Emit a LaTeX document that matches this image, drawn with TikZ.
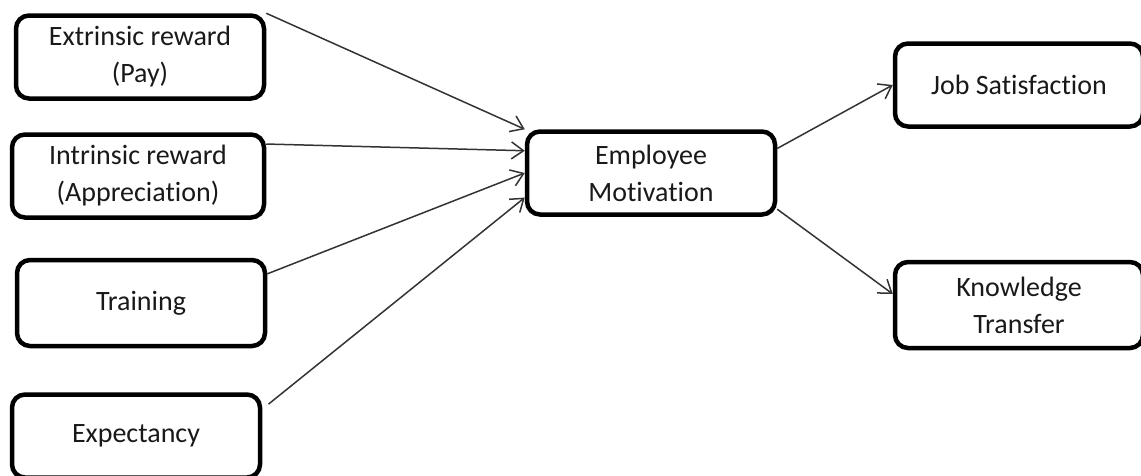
\documentclass[tikz,border=0pt]{standalone}
\usepackage{fontspec}
\setmainfont{Carlito}[Ligatures=NoCommon]
\usetikzlibrary{arrows.meta}

\begin{document}
\begin{tikzpicture}[x=1pt,y=-1pt]
			\tikzstyle{box} = [draw, line width=4.5pt, rounded corners=13pt, minimum width=248pt, minimum height=83pt, inner sep=0pt, align=center, text=black!90, font=\fontsize{28}{37}\selectfont]
			\tikzstyle{es} = [-{Straight Barb[length=12pt,width=17pt]}, line width=1.5pt, draw=black!80]
			\useasboundingbox (0,0) rectangle (1141,475);
			\node [box] (ext) at (140,57) {Extrinsic reward\\(Pay)};
			\node [box, minimum width=252pt] (intr) at (138,176) {Intrinsic reward\\(Appreciation)};
			\node [box, minimum height=86pt] (train) at (141,303) {Training};
			\node [box] (expt) at (136,436) {Expectancy};
			\node [box] (motiv) at (651,173) {Employee\\Motivation};
			\node [box] (job) at (1019,85) {Job Satisfaction};
			\node [box, minimum height=86pt] (know) at (1019,305) {Knowledge\\Transfer};
			\draw [es] (ext.north east) -- (motiv.north west);
			\draw [es] (intr.14) -- (motiv.170);
			\draw [es] (train.13) -- (motiv.west);
			\draw [es, shorten <=8pt] (expt.12) -- (motiv.191);
			\draw [es] (motiv.11) -- (job.west);
			\draw [es] (motiv.-16) -- (know.175);
		\end{tikzpicture}
\end{document}
